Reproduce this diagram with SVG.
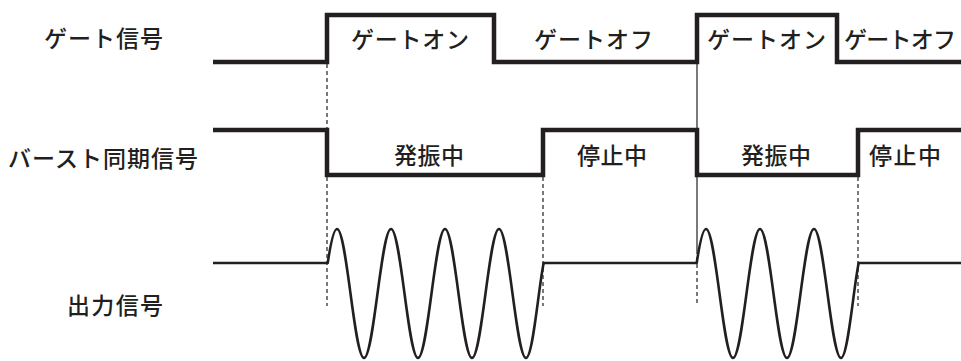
<svg xmlns="http://www.w3.org/2000/svg" width="961" height="361" viewBox="0 0 961 361">
<style>
.sig{fill:none;stroke:#231f20;stroke-width:4.5;stroke-linejoin:miter}
.wave{fill:none;stroke:#231f20;stroke-width:2.6;stroke-linejoin:round}
.dash{fill:none;stroke:#231f20;stroke-width:1.2;stroke-dasharray:4 3}
.thin{fill:none;stroke:#231f20;stroke-width:1.2}
text{font-family:"Noto Sans CJK JP","Noto Sans",sans-serif;font-size:23px;font-weight:500;fill:#231f20}
</style>
<rect width="961" height="361" fill="#ffffff"/>
<g id="labels">
<text x="44" y="47" textLength="119" lengthAdjust="spacing">ゲート信号</text>
<text x="8" y="167" textLength="190" lengthAdjust="spacing">バースト同期信号</text>
<text x="67" y="314" textLength="96" lengthAdjust="spacing">出力信号</text>
</g>
<g id="gate-signal">
<path class="sig" d="M213,62 H327 V15 H494 V62 H697 V15 H837 V62 H961"/>
<text x="351" y="48" textLength="118" lengthAdjust="spacing">ゲートオン</text>
<text x="534" y="48" textLength="119" lengthAdjust="spacing">ゲートオフ</text>
<text x="707" y="48" textLength="119" lengthAdjust="spacing">ゲートオン</text>
<text x="844" y="48" textLength="112" lengthAdjust="spacing">ゲートオフ</text>
</g>
<g id="burst-sync-signal">
<path class="sig" d="M213,130 H327 V175 H543 V130 H697 V175 H858 V130 H961"/>
<text x="394" y="164" textLength="70" lengthAdjust="spacing">発振中</text>
<text x="577" y="164" textLength="70" lengthAdjust="spacing">停止中</text>
<text x="741" y="164" textLength="70" lengthAdjust="spacing">発振中</text>
<text x="869" y="164" textLength="72" lengthAdjust="spacing">停止中</text>
</g>
<g id="output-signal">
<path class="wave" d="M213,263 H327.7 C330.8,242.5 333.9,229 337,229 C346.8,229 354.2,358 364,358 C373.8,358 381.2,229 391,229 C400.8,229 408.2,358 418,358 C427.8,358 435.2,229 445,229 C454.8,229 462.2,358 472,358 C481.8,358 489.2,229 499,229 C508.8,229 516.2,358 526,358 C533,358 538.5,287 543.7,263 H696.7 C699.8,242.5 702.9,229 706,229 C715.8,229 723.2,358 733,358 C742.8,358 750.2,229 760,229 C769.8,229 777.2,358 787,358 C796.8,358 804.2,229 814,229 C823.8,229 831.2,358 841,358 C848,358 853.5,287 858.7,263 H961"/>
</g>
<g id="connectors">
<line class="dash" x1="327" y1="64" x2="327" y2="128"/>
<line class="dash" x1="327" y1="177" x2="327" y2="306"/>
<line class="dash" x1="543" y1="177" x2="543" y2="306"/>
<line class="thin" x1="697" y1="64" x2="697" y2="128"/>
<line class="thin" x1="697" y1="177" x2="697" y2="250"/>
<line class="dash" x1="697" y1="250" x2="697" y2="305"/>
<line class="dash" x1="858" y1="177" x2="858" y2="306"/>
</g>
</svg>
